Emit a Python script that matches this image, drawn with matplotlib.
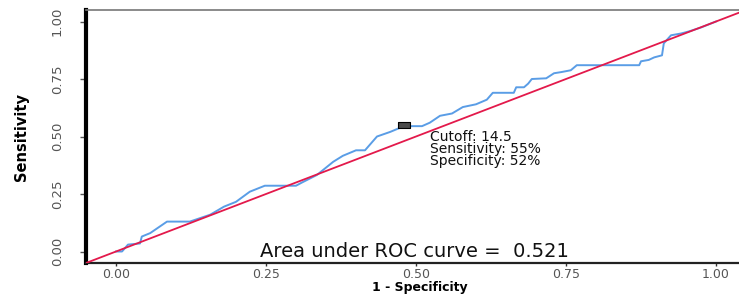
import matplotlib
matplotlib.use("Agg")
import matplotlib.pyplot as plt
from matplotlib.path import Path

# ROC curve
fpr = [0.0, 0.01, 0.02, 0.04, 0.043, 0.057, 0.085, 0.123, 0.157, 0.18,
       0.2, 0.223, 0.248, 0.30, 0.31, 0.335, 0.362, 0.378, 0.40, 0.415,
       0.435, 0.457, 0.48, 0.51, 0.523, 0.54, 0.56, 0.578, 0.60, 0.618,
       0.628, 0.663, 0.667, 0.68, 0.687, 0.693, 0.717, 0.73, 0.742, 0.758,
       0.768, 0.872, 0.875, 0.888, 0.897, 0.91, 0.913, 0.925, 0.942, 0.955,
       0.975, 1.0]
tpr = [0.0, 0.0, 0.03, 0.035, 0.065, 0.08, 0.13, 0.13, 0.16, 0.195,
       0.216, 0.26, 0.286, 0.286, 0.30, 0.333, 0.39, 0.416, 0.44, 0.44,
       0.50, 0.52, 0.545, 0.545, 0.56, 0.59, 0.60, 0.628, 0.64, 0.66,
       0.69, 0.69, 0.714, 0.714, 0.73, 0.75, 0.753, 0.775, 0.78, 0.788,
       0.81, 0.81, 0.827, 0.833, 0.844, 0.853, 0.905, 0.94, 0.948, 0.957,
       0.974, 1.0]

cut_x, cut_y = 0.48, 0.55
cut_lines = ["Cutoff: 14.5", "Sensitivity: 55%", "Specificity: 52%"]
auc_text = "Area under ROC curve =  0.521"
ticks = [0.0, 0.25, 0.5, 0.75, 1.0]
tick_labels = ["0.00", "0.25", "0.50", "0.75", "1.00"]

fig = plt.figure(figsize=(7.39, 2.95), dpi=100)
ax = fig.add_axes([86 / 739, 1 - 263 / 295, 660 / 739, 253 / 295])

ax.plot([-0.05, 1.1], [-0.05, 1.1], c="#e3194b", lw=1.3, zorder=3)
ax.plot(fpr, tpr, c="#5a9de6", lw=1.4, zorder=2)

box = Path([(-2, -1), (2, -1), (2, 1), (-2, 1), (-2, -1)])
ax.plot([cut_x], [cut_y], marker=box, ms=9, mfc="#4a4a4a", mec="black",
        mew=0.8, zorder=4)

# cutoff annotation, one text block with tight line spacing
ax.text(0.523, 0.445, "\n".join(cut_lines), fontsize=10, va="center",
        ha="left", color="#111111", linespacing=0.82)
ax.text(0.497, 0.0, auc_text, fontsize=14, ha="center", va="center",
        color="#111111")

ax.set_xlim(-0.05, 1.05)
ax.set_ylim(-0.05, 1.05)
ax.set_xticks(ticks)
ax.set_xticklabels(tick_labels, fontsize=9, color="#555555")
ax.set_yticks(ticks)
ax.set_yticklabels(tick_labels, rotation=90, va="center",
                   fontsize=9.5, color="#555555",
                   family=["Liberation Sans Narrow", "DejaVu Sans"])
ax.tick_params(axis="x", length=2.5, width=1, color="#333333", pad=0.8)
ax.tick_params(axis="y", length=4, width=1, color="#555555", pad=12)

ax.set_xlabel("1 - Specificity", fontsize=9, fontweight="bold")
ax.xaxis.set_label_coords(0.506, -0.095)
ax.xaxis.label.set_va("center")
ax.set_ylabel("Sensitivity", fontsize=10.5, fontweight="bold",
              family=["Liberation Sans Narrow", "DejaVu Sans"])
ax.yaxis.set_label_coords(-0.086, 0.498)

ax.spines["left"].set_linewidth(3)
ax.spines["left"].set_color("black")
ax.spines["bottom"].set_linewidth(1.6)
ax.spines["bottom"].set_color("#222222")
ax.spines["top"].set_linewidth(1.2)
ax.spines["top"].set_color("#777777")
ax.spines["right"].set_visible(False)

fig.savefig("out.png", dpi=100)
